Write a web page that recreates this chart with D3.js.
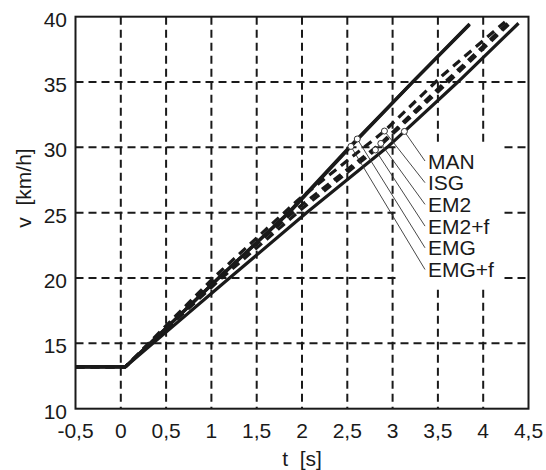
<!DOCTYPE html>
<html>
<head>
<meta charset="utf-8">
<script src="https://cdn.jsdelivr.net/npm/d3@7"></script>
<style>
  html, body { margin: 0; padding: 0; background: #fff; }
  svg { display: block; }
  text { font-family: "Liberation Sans", Arial, sans-serif; fill: #1a1a1a; }
</style>
</head>
<body>
<svg id="chart" width="546" height="470"></svg>
<script>
// ---- data ----
const seriesNames = ["MAN", "ISG", "EM2", "EM2+f", "EMG", "EMG+f"];
const seriesDashed = [false, true, true, true, false, false];

const tMAN  = [-0.5, 0.05, 1.20, 2.05, 2.94, 3.72, 4.39];
const vMAN  = [13.2, 13.2, 20.0, 25.0, 30.0, 35.0, 39.5];

const tISG  = [-0.5, 0.05, 1.02, 1.96, 2.91, 3.55, 4.24];
const vISG  = [13.2, 13.2, 20.0, 26.0, 31.25, 35.5, 39.6];

const tEM2  = [-0.5, 0.05, 1.05, 1.98, 2.87, 3.58, 4.27];
const vEM2  = [13.2, 13.2, 19.9, 25.5, 30.3, 35.0, 39.5];

const tEM2f = [-0.5, 0.05, 1.08, 2.00, 2.81, 3.60, 4.28];
const vEM2f = [13.2, 13.2, 19.8, 25.3, 29.8, 34.9, 39.4];

const tEMG  = [-0.5, 0.05, 1.08, 1.85, 2.52, 3.22, 3.85];
const vEMG  = [13.2, 13.2, 20.0, 25.0, 30.0, 35.0, 39.45];

const tEMGf = [-0.5, 0.05, 1.08, 1.86, 2.53, 3.22, 3.85];
const vEMGf = [13.2, 13.2, 20.0, 25.0, 30.0, 35.0, 39.4];

const seriesT = [tMAN, tISG, tEM2, tEM2f, tEMG, tEMGf];
const seriesV = [vMAN, vISG, vEM2, vEM2f, vEMG, vEMGf];

// time at which each label's marker circle sits on its curve
const markerT = [3.13, 2.91, 2.87, 2.81, 2.61, 2.54];

const xTicks = [-0.5, 0, 0.5, 1, 1.5, 2, 2.5, 3, 3.5, 4, 4.5];
const yTicks = [10, 15, 20, 25, 30, 35, 40];
const xTitle = "t  [s]";
const yTitle = "v  [km/h]";

// ---- layout ----
const svg = d3.select("#chart");
const L = 75.5, R = 528.5, T = 16.7, B = 408.7;
const x = d3.scaleLinear().domain([-0.5, 4.5]).range([L, R]);
const y = d3.scaleLinear().domain([10, 40]).range([B, T]);
const fmt = v => String(v).replace(".", ",");
const FS = 21;

svg.append("rect").attr("width", 546).attr("height", 470).attr("fill", "#fff");

// grid
const grid = svg.append("g").attr("stroke", "#1a1a1a").attr("stroke-width", 2)
  .attr("stroke-dasharray", "8,5");
grid.selectAll("line.gx").data(xTicks.slice(1, -1)).join("line")
  .attr("x1", d => x(d)).attr("x2", d => x(d)).attr("y1", T).attr("y2", B);
grid.selectAll("line.gy").data(yTicks.slice(1, -1)).join("line")
  .attr("y1", d => y(d)).attr("y2", d => y(d)).attr("x1", L).attr("x2", R);

// curves
const line = d3.line().x(d => x(d[0])).y(d => y(d[1]));
seriesNames.forEach((name, i) => {
  const pts = seriesT[i].map((t, j) => [t, seriesV[i][j]]);
  svg.append("path")
    .attr("d", line(pts))
    .attr("fill", "none")
    .attr("stroke", "#1a1a1a")
    .attr("stroke-width", 3.2)
    .attr("stroke-linejoin", "round")
    .attr("stroke-dasharray", seriesDashed[i] ? "9,6" : null);
});

// frame
svg.append("rect").attr("x", L).attr("y", T).attr("width", R - L).attr("height", B - T)
  .attr("fill", "none").attr("stroke", "#1a1a1a").attr("stroke-width", 2);

// axes tick labels
svg.append("g").selectAll("text").data(xTicks).join("text")
  .attr("x", d => x(d)).attr("y", 438)
  .attr("text-anchor", "middle").attr("font-size", FS)
  .text(d => fmt(d));
svg.append("g").selectAll("text").data(yTicks).join("text")
  .attr("x", 67).attr("y", d => y(d) + 10)
  .attr("text-anchor", "end").attr("font-size", FS)
  .text(d => fmt(d));

// axis titles
svg.append("text").attr("x", (L + R) / 2).attr("y", 466)
  .attr("text-anchor", "middle").attr("font-size", FS)
  .style("white-space", "pre").text(xTitle);
svg.append("text").attr("transform", "translate(31,188) rotate(-90)")
  .attr("text-anchor", "middle").attr("font-size", FS)
  .style("white-space", "pre").text(yTitle);

// white backdrop behind the label block
svg.append("rect").attr("x", 396).attr("y", 145).attr("width", 104).attr("height", 143)
  .attr("fill", "#fff");

// labels with leader lines and marker circles
const labelX = 428, labelY0 = 161, labelDY = 21.7;
seriesNames.forEach((name, i) => {
  const tm = markerT[i];
  const vm = d3.scaleLinear().domain(seriesT[i]).range(seriesV[i])(tm);
  const cx = x(tm), cy = y(vm);
  const ly = labelY0 + i * labelDY;
  svg.append("line").attr("x1", cx).attr("y1", cy).attr("x2", labelX - 3).attr("y2", ly)
    .attr("stroke", "#333").attr("stroke-width", 0.9);
  svg.append("circle").attr("cx", cx).attr("cy", cy).attr("r", 3)
    .attr("fill", "#fff").attr("stroke", "#333").attr("stroke-width", 1);
  svg.append("text").attr("x", labelX).attr("y", ly + 7.5)
    .attr("font-size", FS).text(name);
});
</script>
</body>
</html>
